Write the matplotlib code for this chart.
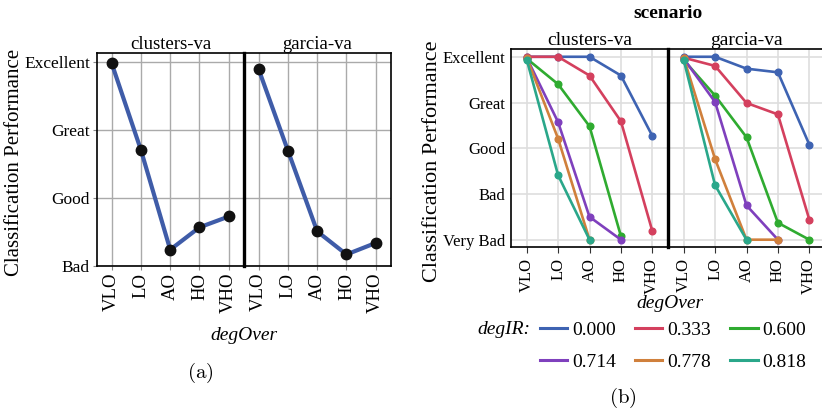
import matplotlib.pyplot as plt
from matplotlib.lines import Line2D

plt.rcParams['font.family'] = 'Liberation Serif'
plt.rcParams['mathtext.fontset'] = 'cm'

# ==================== data ====================
deg_over = ["VLO", "LO", "AO", "HO", "VHO"]
scenarios = ["clusters-va", "garcia-va"]

# (a) mean classification performance (1=Bad ... 4=Excellent)
levels_a = ["Bad", "Good", "Great", "Excellent"]
perf_a_clusters = [3.99, 2.71, 1.24, 1.57, 1.73]
perf_a_garcia = [3.90, 2.70, 1.51, 1.17, 1.34]

# (b) per degIR (0=Very Bad ... 4=Excellent)
levels_b = ["Very Bad", "Bad", "Good", "Great", "Excellent"]
deg_ir = ["0.000", "0.333", "0.600", "0.714", "0.778", "0.818"]
ir_colors = ["#3e63b2", "#d4405e", "#2fab30", "#7f40bd", "#d0803c", "#2aa78a"]
perf_b_clusters = [
    [4.00, 4.00, 4.00, 3.59, 2.27],
    [4.00, 4.00, 3.59, 2.59, 0.19],
    [3.96, 3.40, 2.48, 0.08],
    [3.98, 2.57, 0.50, 0.00],
    [3.98, 2.21, 0.00],
    [3.94, 1.41, 0.00],
]
perf_b_garcia = [
    [4.00, 4.00, 3.74, 3.66, 2.08],
    [3.98, 3.80, 2.99, 2.74, 0.44],
    [3.93, 3.15, 2.24, 0.37, 0.00],
    [3.96, 3.01, 0.75, 0.00],
    [3.98, 1.76, 0.00, 0.00],
    [3.93, 1.19, 0.00],
]

W, H = 822, 412
fig = plt.figure(figsize=(W / 100, H / 100), dpi=100)


def px_axes(x0, x1, y0, y1):
    return fig.add_axes([x0 / W, 1 - y1 / H, (x1 - x0) / W, (y1 - y0) / H])


# ==================== panel (a) ====================
for i, (name, vals) in enumerate(zip(scenarios, [perf_a_clusters, perf_a_garcia])):
    ax = px_axes(97 + i * 147, 244 + i * 147, 53, 266)
    ax.plot(range(len(vals)), vals, color="#3f5ca8", lw=3.0, zorder=3)
    ax.plot(range(len(vals)), vals, "o", color="#111111", ms=7.5, zorder=4)
    ax.set_xlim(-0.5, 4.52)
    ax.set_ylim(1.0, 4.14)
    ax.set_xticks(range(len(deg_over)))
    ax.set_xticklabels(deg_over, rotation=90, fontsize=13.5)
    ax.set_yticks(range(1, 5))
    ax.grid(True, color="#aaaaaa", lw=1.0)
    ax.set_axisbelow(True)
    ax.tick_params(axis="both", length=3, color="#888888", pad=2)
    if i == 0:
        ax.set_yticklabels(levels_a, fontsize=12.5)
    else:
        ax.set_yticklabels([])
        ax.tick_params(axis="y", length=0)
        ax.spines["left"].set_linewidth(2.4)
    for s in ax.spines.values():
        if s.get_linewidth() < 2:
            s.set_linewidth(1.2)
    ax.set_title(name, fontsize=13.5, pad=2)

fig.text(15 / W, 1 - 162 / H, "Classification Performance", rotation=90,
         ha="center", va="center", fontsize=15)
fig.text(244 / W, 1 - 335 / H, "degOver", style="italic", ha="center", va="center", fontsize=14)
fig.text(200 / W, 1 - 373 / H, r"$\mathrm{(a)}$", ha="center", va="center", fontsize=15)

# ==================== panel (b) ====================
for i, (name, series) in enumerate(zip(scenarios, [perf_b_clusters, perf_b_garcia])):
    ax = px_axes(511 + i * 157, 668 + i * 157, 49, 247)
    for vals, c in zip(series, ir_colors):
        ax.plot(range(len(vals)), vals, "-o", color=c, lw=1.9, ms=4.8, zorder=3)
    ax.set_xlim(-0.5, 4.5)
    ax.set_ylim(-0.16, 4.17)
    ax.set_xticks(range(len(deg_over)))
    ax.set_xticklabels(deg_over, rotation=90, fontsize=12)
    ax.set_yticks(range(5))
    ax.grid(True, color="#dedede", lw=1.2)
    ax.set_axisbelow(True)
    ax.tick_params(axis="x", length=4, color="#333333", pad=4)
    ax.tick_params(axis="y", length=0, pad=4)
    if i == 0:
        ax.set_yticklabels(levels_b, fontsize=12)
    else:
        ax.set_yticklabels([])
        ax.spines["left"].set_linewidth(2.4)
    for k, s in ax.spines.items():
        if not (i == 1 and k == "left"):
            s.set_linewidth(1.2)
    ax.set_title(name, fontsize=14, pad=2)

fig.text(668 / W, 1 - 13 / H, "scenario", weight="bold", ha="center", va="center", fontsize=14)
fig.text(432 / W, 1 - 161 / H, "Classification Performance", rotation=90,
         ha="center", va="center", fontsize=16)
fig.text(670 / W, 1 - 303 / H, "degOver", style="italic", ha="center", va="center", fontsize=14)
fig.text(623 / W, 1 - 398 / H, r"$\mathrm{(b)}$", ha="center", va="center", fontsize=15)

# legend, filled row by row
handles = [Line2D([0], [0], color=c, lw=2.2) for c in ir_colors]
order = [0, 3, 1, 4, 2, 5]
fig.legend([handles[k] for k in order], [deg_ir[k] for k in order], ncol=3,
           loc="center", bbox_to_anchor=(673 / W, 1 - 346 / H), frameon=False,
           fontsize=14, handlelength=1.4, handletextpad=0.25, columnspacing=1.0,
           labelspacing=0.75, borderpad=0.0)
fig.text(530 / W, 1 - 330 / H, "degIR:", style="italic", ha="right", va="center", fontsize=14)

plt.savefig("out.png", dpi=100, facecolor="white")
